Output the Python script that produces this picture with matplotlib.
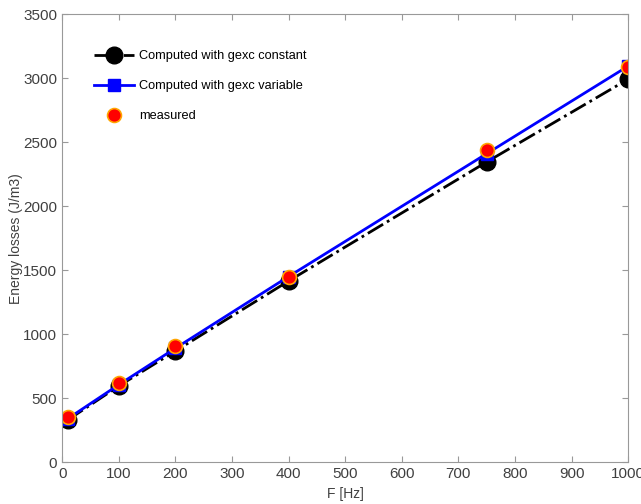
import numpy as np
import matplotlib.pyplot as plt

plt.rcParams['font.family'] = ['Liberation Sans', 'DejaVu Sans']

# frequencies and energy losses
freq = [10, 100, 200, 400, 750, 1000]
loss_const = [330, 595, 868, 1415, 2345, 2992]
loss_var = [340, 605, 890, 1450, 2410, 3094]
loss_meas = [350, 620, 905, 1450, 2435, 3086]

fig, ax = plt.subplots(figsize=(6.41, 5.04), dpi=100)
fig.subplots_adjust(left=0.097, right=0.98, top=0.972, bottom=0.083)

ax.plot(freq, loss_const, color='black', linestyle='-.', linewidth=2,
        marker='o', markersize=12, label='Computed with gexc constant')
ax.plot(freq, loss_var, color='#0000ff', linestyle='-', linewidth=2,
        marker='s', markersize=9, label='Computed with gexc variable')
ax.plot(freq, loss_meas, linestyle='none', marker='o', markersize=10,
        markerfacecolor='red', markeredgecolor='orange', markeredgewidth=1.2,
        label='measured')

ax.set_xlim(0, 1000)
ax.set_ylim(0, 3500)
ax.set_xticks(np.arange(0, 1001, 100))
ax.set_yticks(np.arange(0, 3501, 500))
ax.set_xlabel('F [Hz]', fontsize=10, color='#404040')
ax.set_ylabel('Energy losses (J/m3)', fontsize=10, color='#404040', labelpad=0)
ax.tick_params(direction='in', top=True, right=True, labelsize=11,
               colors='#999999', labelcolor='#404040', length=4)
for s in ax.spines.values():
    s.set_color('#999999')

leg = ax.legend(loc='upper left', frameon=False, fontsize=9.2,
                bbox_to_anchor=(0.036, 0.945), labelspacing=1.4,
                handlelength=3.1, handletextpad=0.4)

fig.savefig('out.png')
